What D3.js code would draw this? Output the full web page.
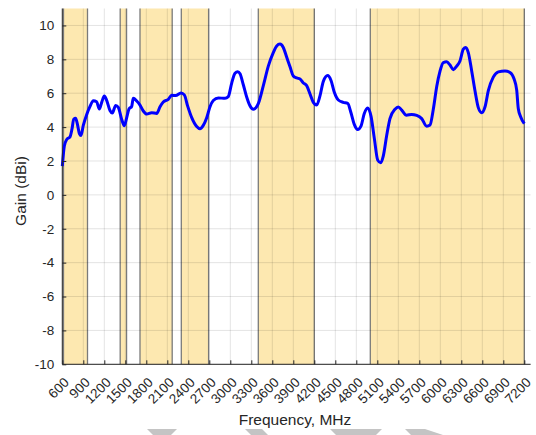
<!DOCTYPE html>
<html>
<head>
<meta charset="utf-8">
<script src="https://cdn.jsdelivr.net/npm/d3@7/dist/d3.min.js"></script>
<style>
  html, body { margin: 0; padding: 0; background: #ffffff; }
  svg { display: block; }
  text { font-family: "Liberation Sans", Arial, Helvetica, sans-serif; fill: #262626; }
</style>
</head>
<body>
<svg id="chart" width="536" height="435"></svg>
<script>
// ---- data ----
const freqMHz = [600, 629, 663, 710, 739, 763, 791, 814, 846, 867, 900, 949, 996, 1043, 1091, 1129, 1163, 1200, 1234, 1281,
  1314, 1363, 1400, 1449, 1486, 1520, 1553, 1591, 1614, 1663, 1710, 1757, 1806, 1877, 1949, 1996, 2043, 2114, 2163, 2220,
  2296, 2343, 2391, 2449, 2520, 2567, 2614, 2663, 2710, 2757, 2829, 2924, 2971, 3020, 3067, 3106, 3139, 3186, 3234, 3281,
  3329, 3367, 3400, 3471, 3543, 3614, 3663, 3710, 3757, 3806, 3853, 3900, 3949, 3996, 4043, 4091, 4139, 4186, 4234, 4281,
  4329, 4391, 4439, 4486, 4543, 4614, 4677, 4724, 4771, 4820, 4867, 4914, 4960, 5010, 5057, 5106, 5149, 5186, 5234, 5281,
  5353, 5400, 5449, 5517, 5591, 5663, 5734, 5806, 5853, 5900, 5949, 5996, 6043, 6091, 6139, 6186, 6234, 6281, 6329, 6364,
  6400, 6449, 6496, 6543, 6591, 6639, 6686, 6757, 6829, 6924, 6996, 7053, 7091, 7114, 7149, 7200];
const gainDBi = [1.69, 2.88, 3.27, 3.42, 3.9, 4.46, 4.52, 4.2, 3.6, 3.5, 4.1, 4.75, 5.22, 5.56, 5.5, 5.07, 5.46, 5.84, 5.58, 4.98,
  4.83, 5.28, 5.17, 4.45, 4.08, 4.56, 5.07, 5.22, 5.7, 5.54, 5.3, 4.95, 4.77, 4.85, 4.81, 5.2, 5.48, 5.64, 5.88, 5.86,
  6.02, 5.9, 5.24, 4.56, 4.04, 3.91, 4.1, 4.55, 5.2, 5.57, 5.72, 5.7, 5.8, 6.6, 7.18, 7.27, 7.15, 6.5, 5.78, 5.26,
  5.05, 5.15, 5.38, 6.43, 7.6, 8.4, 8.79, 8.9, 8.7, 8.12, 7.56, 7.02, 6.9, 6.84, 6.6, 6.45, 5.95, 5.46, 5.3, 5.84,
  6.7, 7.04, 6.75, 6.05, 5.6, 5.46, 5.4, 4.85, 4.16, 3.86, 4.06, 4.8, 5.13, 4.65, 3.35, 2.05, 1.89, 2.3, 3.5, 4.5,
  5.05, 5.19, 5.0, 4.7, 4.75, 4.69, 4.5, 4.05, 4.12, 5.05, 6.4, 7.3, 7.81, 7.85, 7.66, 7.39, 7.6, 7.9, 8.6, 8.7,
  8.4, 7.3, 6.13, 5.15, 4.85, 5.2, 6.15, 6.95, 7.26, 7.31, 7.22, 6.85, 6.2, 5.1, 4.6, 4.2];
// shaded frequency bands (start, end) in MHz
const bandStart = [617, 1427, 1710, 2300, 3400, 5000];
const bandEnd   = [960, 1518, 2170, 2690, 4200, 7200];
const xTicks = d3.range(600, 7201, 300);
const yTicks = d3.range(-10, 11, 2);
const xLabel = "Frequency, MHz";
const yLabel = "Gain (dBi)";

// ---- layout ----
const svg = d3.select("#chart");
const x = d3.scaleLinear().domain([600, 7290]).range([62.3, 530.6]);
const y = d3.scaleLinear().domain([-10, 11]).range([364.3, 8.5]);
const [x0, x1] = x.range();
const [yb, yt] = y.range();

svg.append("rect").attr("width", 536).attr("height", 435).attr("fill", "#ffffff");

// bands (fill, then vertical edges only: top/bottom are clipped by the axes)
const bands = bandStart.map((s, i) => ({ s, e: bandEnd[i] }));
const gb = svg.append("g");
gb.selectAll("rect").data(bands).join("rect")
  .attr("x", d => x(d.s)).attr("y", yt)
  .attr("width", d => x(d.e) - x(d.s)).attr("height", yb - yt)
  .attr("fill", "#fde8b0");
const edges = bands.flatMap(d => [d.s, d.e]);
gb.selectAll("line").data(edges).join("line")
  .attr("x1", d => x(d)).attr("x2", d => x(d)).attr("y1", yt).attr("y2", yb)
  .attr("stroke", "#7a7a7a").attr("stroke-width", 1.3);

// grid
const grid = svg.append("g").attr("stroke", "rgba(0,0,0,0.11)").attr("stroke-width", 1);
grid.selectAll("line.v").data(xTicks).join("line").attr("class", "v")
  .attr("x1", d => x(d)).attr("x2", d => x(d)).attr("y1", yt).attr("y2", yb);
grid.selectAll("line.h").data(yTicks).join("line").attr("class", "h")
  .attr("x1", x0).attr("x2", x1).attr("y1", d => y(d)).attr("y2", d => y(d));

// curve
const line = d3.line().x((d, i) => x(freqMHz[i])).y(d => y(d)).curve(d3.curveMonotoneX);
svg.append("path").datum(gainDBi)
  .attr("d", line).attr("fill", "none")
  .attr("stroke", "#0000ff").attr("stroke-width", 3).attr("stroke-linejoin", "round");

// axes
const xAxis = d3.axisBottom(x).tickValues(xTicks).tickSize(-4).tickSizeOuter(0).tickFormat(d => String(d));
const gx = svg.append("g").attr("transform", `translate(0,${yb})`).call(xAxis);
gx.select(".domain").attr("stroke", "#262626").attr("d", `M${x0},0H${x1}`);
gx.selectAll(".tick line").attr("stroke", "#262626");
gx.selectAll(".tick text")
  .attr("font-size", 13.5).attr("fill", "#262626")
  .attr("text-anchor", "end").attr("dy", null).attr("y", null)
  .attr("transform", "translate(7,19) rotate(-45)");

const yAxis = d3.axisLeft(y).tickValues(yTicks).tickSize(-4).tickSizeOuter(0).tickFormat(d => String(d));
const gy = svg.append("g").attr("transform", `translate(${x0},0)`).call(yAxis);
gy.select(".domain").attr("stroke", "#262626").attr("d", `M0,${yt}V${yb}`);
gy.selectAll(".tick line").attr("stroke", "#262626");
gy.selectAll(".tick text").attr("font-size", 13.5).attr("fill", "#262626").attr("x", -8);
svg.selectAll(".tick text").style("font-family", '"Liberation Sans", Arial, sans-serif');

// axis titles
svg.append("text").attr("x", 295).attr("y", 425).attr("text-anchor", "middle")
  .attr("font-size", 15.5).text(xLabel);
svg.append("text").attr("transform", "translate(26,191) rotate(-90)").attr("text-anchor", "middle")
  .attr("font-size", 15.5).text(yLabel);

// faint watermark fragments at the bottom edge
const wm = [
  [[147,429],[177,429],[171,435],[153,435]],
  [[245,429],[262,429],[268,435],[251,435]],
  [[330,429],[382,429],[376,435],[336,435]],
  [[405,429],[425,429],[443,435],[411,435]]
];
svg.append("g").selectAll("polygon").data(wm).join("polygon")
  .attr("points", d => d.map(p => p.join(",")).join(" "))
  .attr("fill", "#c4c4c4");
</script>
</body>
</html>
